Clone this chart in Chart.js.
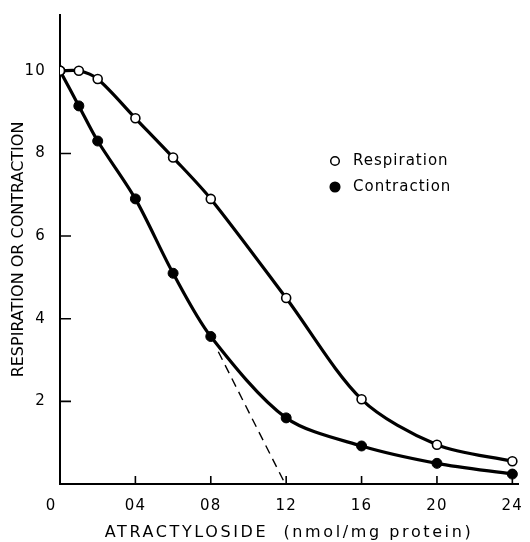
<!DOCTYPE html>
<html><head><meta charset="utf-8">
<script src="https://cdn.jsdelivr.net/npm/chart.js@4.4.0/dist/chart.umd.min.js"></script>
<style>html,body{margin:0;padding:0;background:#fff}#wrap{width:530px;height:542px}</style>
</head><body><div id="wrap"><canvas id="c" width="530" height="542"></canvas></div>
<script>
// Data (x in tenths of nmol/mg protein, labels printed as in the original)
const xValues = [0, 1, 2, 4, 6, 8, 12, 16, 20, 24];
const respiration = [10.0, 10.0, 9.8, 8.85, 7.9, 6.9, 4.5, 2.05, 0.95, 0.55];
const contraction = [10.0, 9.15, 8.3, 6.9, 5.1, 3.57, 1.6, 0.92, 0.5, 0.24];
const dashX = [8.4, 11.95];
const dashY = [3.2, 0];
const xTicks = [0, 4, 8, 12, 16, 20, 24];
const xTickLabels = ['0', '04', '08', '12', '16', '20', '24'];
const yTicks = [2, 4, 6, 8, 10];
const seriesLabels = ['Respiration', 'Contraction'];
const xTitle = 'ATRACTYLOSIDE  (nmol/mg protein)';
const yTitle = 'RESPIRATION OR CONTRACTION';

const toPts = (xs, ys) => xs.map((x, i) => ({x, y: ys[i]}));
const FONT = 'DejaVu Sans';

const spacingPlugin = {
  id: 'spacing',
  beforeDraw(chart) {
    chart.ctx.letterSpacing = '1.2px';
    const sx = chart.scales.x, sy = chart.scales.y;
    if (sx && !sx._wrapT) {
      const o = sx.drawTitle.bind(sx);
      sx.drawTitle = function () { const c = this.ctx; c.save(); c.letterSpacing = '2.6px'; o(); c.restore(); };
      sx._wrapT = true;
    }
    if (sy && !sy._wrapT) {
      const o = sy.drawTitle.bind(sy);
      sy.drawTitle = function () { const c = this.ctx; c.save(); c.letterSpacing = '0px'; o(); c.restore(); };
      sy._wrapT = true;
    }
  }
};

const inwardTicks = {
  id: 'inwardTicks',
  beforeDatasetsDraw(chart) {
    const {ctx, chartArea: a, scales: {x, y}} = chart;
    ctx.save();
    ctx.strokeStyle = '#000';
    ctx.lineWidth = 1.6;
    ctx.beginPath();
    x.ticks.forEach(t => {
      if (t.value === 0) return;
      const px = x.getPixelForValue(t.value);
      ctx.moveTo(px, a.bottom); ctx.lineTo(px, a.bottom - 8);
    });
    y.ticks.forEach(t => {
      const py = y.getPixelForValue(t.value);
      ctx.moveTo(a.left, py); ctx.lineTo(a.left + 11, py);
    });
    ctx.stroke();
    ctx.restore();
  }
};

const legendPlugin = {
  id: 'customLegend',
  afterDraw(chart) {
    const ctx = chart.ctx;
    ctx.save();
    ctx.letterSpacing = '1px';
    ctx.font = '15px "' + FONT + '"';
    ctx.textBaseline = 'middle';
    ctx.textAlign = 'left';
    const rows = [161, 187];
    [0, 1].forEach(i => {
      const ds = chart.data.datasets[i];
      ctx.beginPath();
      ctx.arc(335, rows[i], i === 0 ? 4.3 : 4.8, 0, Math.PI * 2);
      ctx.lineWidth = 1.5;
      ctx.strokeStyle = '#000';
      ctx.fillStyle = ds.pointBackgroundColor;
      ctx.fill(); ctx.stroke();
      ctx.fillStyle = '#000';
      ctx.fillText(ds.label, 353, rows[i]);
    });
    ctx.restore();
  }
};

new Chart(document.getElementById('c'), {
  type: 'scatter',
  data: {
    datasets: [
      {
        label: seriesLabels[0], data: toPts(xValues, respiration), showLine: true,
        borderColor: '#000', borderWidth: 3.2, tension: 0.3,
        pointRadius: 4.5, pointBorderWidth: 1.6, pointBackgroundColor: '#fff', pointBorderColor: '#000'
      },
      {
        label: seriesLabels[1], data: toPts(xValues, contraction), showLine: true,
        borderColor: '#000', borderWidth: 3.2, tension: 0.3,
        pointRadius: 5, pointBorderWidth: 1, pointBackgroundColor: '#000', pointBorderColor: '#000'
      },
      {
        label: 'extrapolation', data: toPts(dashX, dashY), showLine: true,
        borderColor: '#000', borderWidth: 1.4, borderDash: [9, 6], pointRadius: 0
      }
    ]
  },
  options: {
    responsive: false, animation: false, devicePixelRatio: 1,
    layout: {padding: {left: 0, right: 12, top: 13, bottom: 0}},
    plugins: {legend: {display: false}, tooltip: {enabled: false}},
    scales: {
      x: {
        type: 'linear', min: 0, max: 24.3,
        afterBuildTicks: s => { s.ticks = xTicks.map(v => ({value: v})); },
        afterFit: s => { s.height = 58; },
        grid: {display: false},
        border: {display: true, color: '#000', width: 2},
        ticks: {
          color: '#000', font: {family: FONT, size: 15}, padding: 5, maxRotation: 0, autoSkip: false,
          callback: v => { const i = xTicks.indexOf(v); return i === 0 ? xTickLabels[0] + '   ' : xTickLabels[i]; }
        },
        title: {display: true, text: xTitle, color: '#000', font: {family: FONT, size: 16}, padding: {top: 0, bottom: 0}}
      },
      y: {
        type: 'linear', min: 0, max: 11.35,
        afterBuildTicks: s => { s.ticks = yTicks.map(v => ({value: v})); },
        afterFit: s => { s.width = 60; },
        grid: {display: false},
        border: {display: true, color: '#000', width: 2},
        ticks: {color: '#000', font: {family: FONT, size: 15}, padding: 6},
        title: {display: true, text: yTitle, color: '#000', font: {family: FONT, size: 16}, padding: {top: 9, bottom: 0}}
      }
    }
  },
  plugins: [spacingPlugin, inwardTicks, legendPlugin]
});
</script>
</body></html>
